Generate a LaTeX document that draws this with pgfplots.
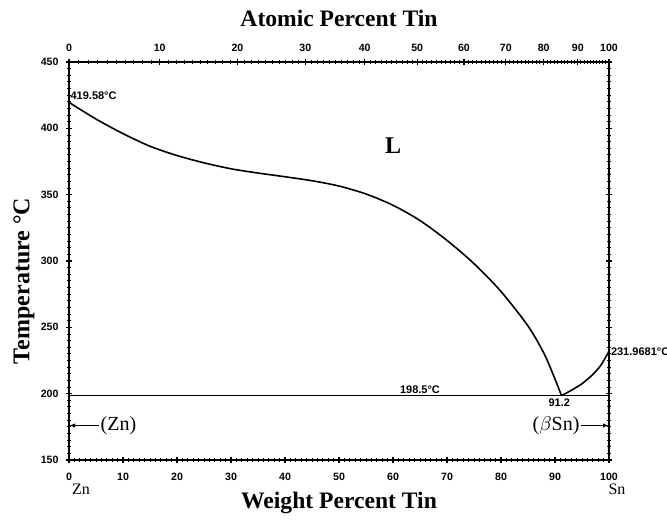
\documentclass[border=0pt]{standalone}
\usepackage{pgfplots}
\pgfplotsset{compat=1.18}
\usepackage{fontspec}
\setmainfont{Liberation Serif}
\newfontfamily\tickfont{Liberation Sans}
\usetikzlibrary{arrows.meta}
% minor ticks of the atomic-percent scale (every 1 at.%), converted to wt.%
\def\minorlist{0}
\foreach \a in {1,...,99}{\pgfmathparse{1.81569*\a/(1+0.0081569*\a)}\xdef\minorlist{\minorlist,\pgfmathresult}}
\begin{document}
\begin{tikzpicture}
\pgfplotsset{
  common/.style={
    scale only axis, width=270pt, height=199pt,
    at={(0,0)}, anchor=south west,
    xmin=0, xmax=100, ymin=150, ymax=450,
    /pgf/number format/assume math mode=true,
    tick label style={font=\tickfont\bfseries\fontsize{5.3}{6}\selectfont},
    major tick length=3.4pt, minor tick length=1.8pt,
    every tick/.style={black, line width=0.6pt},
    every minor tick/.style={black, line width=0.45pt},
    tick align=center,
    axis line style={line width=0.8pt},
    clip=false,
  }
}
\begin{axis}[common,
  xtick={0,10,...,100}, minor x tick num=9,
  ytick={150,200,...,450}, minor y tick num=9,
  xtick pos=lower, ytick pos=both, yticklabel pos=left,
  xticklabel style={yshift=-1.5pt},
  xlabel={\bfseries\fontsize{11.8}{13}\selectfont Weight Percent Tin},
  xlabel style={at={(axis description cs:0.5,-0.107)}, anchor=center},
  ylabel={\bfseries\fontsize{12}{14}\selectfont Temperature \textdegree C},
  ylabel style={at={(axis description cs:-0.0833,0.45)}, anchor=center},
]
% liquidus (Zn side)
\addplot[black, line width=0.8pt, smooth] coordinates {
 (0,419.58) (5,407) (10,396) (15,386.5) (20,379.5) (25,374) (30,369.5)
 (35,366.3) (40,363.5) (45,360.5) (50,356.5) (55,350.5) (60,342) (65,330.5)
 (70,315.5) (75,298) (80,277) (85,251) (88,230) (90,211) (91.2,198.5)
};
% liquidus (Sn side)
\addplot[black, line width=0.8pt, smooth] coordinates {
 (91.2,198.5) (93,202.5) (95,207.5) (97,214.5) (98.5,221.5) (100,231.97)
};
% eutectic line
\addplot[black, line width=0.8pt] coordinates {(0,198.5) (100,198.5)};
% annotations
\node[anchor=south west, inner sep=0.6pt, font=\tickfont\bfseries\fontsize{5.5}{6}\selectfont] at (axis cs:0,420.5) {419.58\textdegree C};
\node[anchor=south, inner sep=0.8pt, font=\tickfont\bfseries\fontsize{5.5}{6}\selectfont] at (axis cs:65,198.5) {198.5\textdegree C};
\node[anchor=north, inner sep=1.2pt, font=\tickfont\bfseries\fontsize{5.5}{6}\selectfont] at (axis cs:90.8,198.5) {91.2};
\node[anchor=west, inner sep=0.8pt, font=\tickfont\bfseries\fontsize{5.5}{6}\selectfont] at (axis cs:100,231.97) {231.9681\textdegree C};
\node[font=\bfseries\fontsize{12}{14}\selectfont] at (axis cs:60,387) {L};
\node[anchor=west, inner sep=0.5pt, font=\fontsize{10}{12}\selectfont] at (axis cs:5.6,176) {(Zn)};
\draw[-{Latex[length=3pt,width=2.2pt]}, line width=0.6pt] (axis cs:5.6,176) -- (axis cs:0,176);
\node[anchor=east, inner sep=0.5pt, font=\fontsize{10}{12}\selectfont] at (axis cs:94.8,176) {($\beta$Sn)};
\draw[-{Latex[length=3pt,width=2.2pt]}, line width=0.6pt] (axis cs:94.8,176) -- (axis cs:100,176);
\node[font=\fontsize{8}{9}\selectfont] at ([xshift=6pt,yshift=-14.5pt]axis cs:0,150) {Zn};
\node[font=\fontsize{8}{9}\selectfont] at ([xshift=4pt,yshift=-14.5pt]axis cs:100,150) {Sn};
\node[font=\bfseries\fontsize{11.8}{13}\selectfont] at ([yshift=22pt]axis cs:50,450) {Atomic Percent Tin};
\end{axis}
% atomic percent scale on top
\begin{axis}[common,
  axis x line*=top, axis y line=none,
  xtick={0,16.79,31.20,43.76,54.76,64.48,73.14,80.90,87.90,94.23,100},
  xticklabels={0,10,20,30,40,50,60,70,80,90,100},
  minor xtick/.expanded={\minorlist},
]
\end{axis}
\pgfresetboundingbox
\useasboundingbox (-34.5pt,-29.5pt) rectangle (299pt,230pt);
\end{tikzpicture}
\end{document}
